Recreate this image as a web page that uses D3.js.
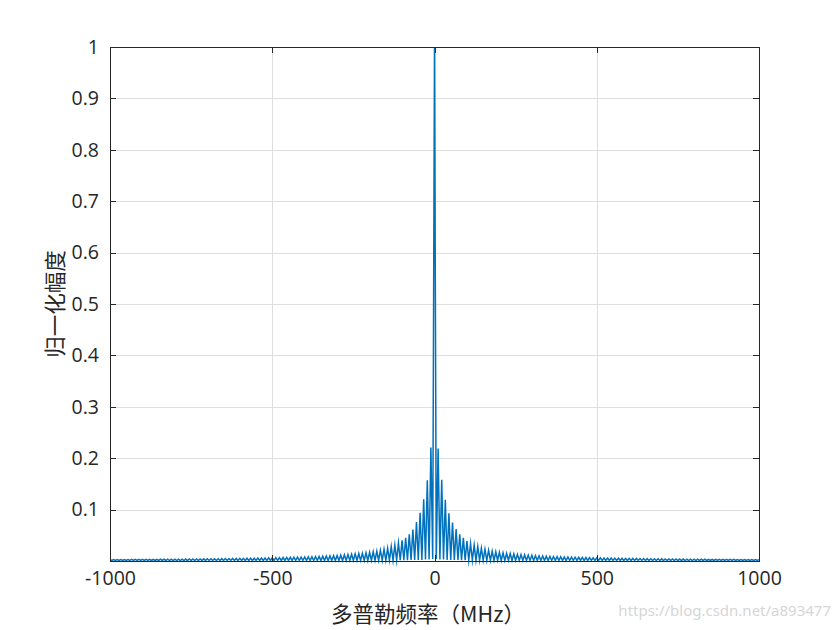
<!DOCTYPE html>
<html>
<head>
<meta charset="utf-8">
<script src="https://cdn.jsdelivr.net/npm/d3@7/dist/d3.min.js"></script>
<style>
  html, body { margin: 0; padding: 0; background: #fff; }
  svg { display: block; }
</style>
</head>
<body>
<svg id="chart" width="840" height="630"></svg>
<script>
// ---------------- data ----------------
const xTicks = [-1000, -500, 0, 500, 1000];
const xTickLabels = ["-1000", "-500", "0", "500", "1000"];
const yTicks = [0.1, 0.2, 0.3, 0.4, 0.5, 0.6, 0.7, 0.8, 0.9, 1];
const yTickLabels = ["0.1", "0.2", "0.3", "0.4", "0.5", "0.6", "0.7", "0.8", "0.9", "1"];
const xLabel = "多普勒频率（MHz）";
const yLabel = "归一化幅度";
const watermark = "https://blog.csdn.net/a893477";

// frequency bins (MHz): 180 bins on each side of 0
const binStepMHz = 1000 / 180;
const binsPerSide = 180;

// centre bin
const centerPeak = 1;
// spike heights at even bins, going outward from the centre
const peaksRight = [
  0.219,0.158,0.119,0.093,0.075,0.062,0.052,0.045,0.039,0.034,
  0.031,0.028,0.025,0.023,0.021,0.019,0.018,0.017,0.016,0.015,
  0.0145,0.014,0.013,0.0125,0.012,0.0115,0.011,0.0105,0.010,0.0098,
  0.0095,0.0090,0.0088,0.0085,0.0082,0.0080,0.0078,0.0075,0.0073,0.0071,
  0.0069,0.0067,0.0065,0.0063,0.0062,0.0060,0.0059,0.0058,0.0057,0.0056,
  0.0055,0.0054,0.0052,0.0051,0.0050,0.0049,0.0048,0.0047,0.0046,0.0045,
  0.0044,0.0043,0.0042,0.0041,0.0041,0.0040,0.0039,0.0038,0.0038,0.0037,
  0.0036,0.0036,0.0035,0.0034,0.0034,0.0033,0.0033,0.0032,0.0032,0.0031,
  0.0031,0.0030,0.0030,0.0029,0.0029,0.0028,0.0028,0.0027,0.0027,0.0026
];
const peaksLeft = [
  0.221,0.157,0.120,0.094,0.076,0.061,0.052,0.045,0.040,0.035,
  0.031,0.028,0.025,0.023,0.021,0.019,0.018,0.017,0.016,0.015,
  0.0145,0.0138,0.0131,0.0125,0.0120,0.0114,0.0109,0.0104,0.0100,0.0097,
  0.0093,0.0090,0.0087,0.0084,0.0082,0.0079,0.0077,0.0075,0.0073,0.0071,
  0.0069,0.0067,0.0065,0.0064,0.0062,0.0061,0.0059,0.0058,0.0057,0.0055,
  0.0054,0.0053,0.0052,0.0051,0.0050,0.0049,0.0048,0.0047,0.0046,0.0045,
  0.0044,0.0043,0.0043,0.0042,0.0041,0.0040,0.0040,0.0039,0.0038,0.0037,
  0.0037,0.0036,0.0035,0.0035,0.0034,0.0034,0.0033,0.0033,0.0032,0.0032,
  0.0031,0.0031,0.0030,0.0030,0.0029,0.0029,0.0028,0.0028,0.0027,0.0027
];
// near-zero values at the odd bins between spikes, going outward
const troughsRight = [
  0.004,0.003,0.003,0.002,0.002,0.002,0.002,0.0015,0.0015,0.0015,
  0.0012,0.0012,0.0012,0.0012,0.0012,0.001,0.001,0.001,0.001,0.001,
  0.001,0.001,0.001,0.001,0.001,0.001,0.001,0.001,0.001,0.001,
  0.001,0.001,0.001,0.001,0.001,0.001,0.001,0.001,0.001,0.001,
  0.001,0.001,0.001,0.001,0.001,0.001,0.001,0.001,0.001,0.001,
  0.001,0.001,0.001,0.001,0.001,0.001,0.001,0.001,0.001,0.001,
  0.001,0.001,0.001,0.001,0.001,0.001,0.001,0.001,0.001,0.001,
  0.001,0.001,0.001,0.001,0.001,0.001,0.001,0.001,0.001,0.001,
  0.001,0.001,0.001,0.001,0.001,0.001,0.001,0.001,0.001,0.001
];
const troughsLeft = [
  0.004,0.003,0.003,0.002,0.002,0.002,0.002,0.0015,0.0015,0.0015,
  0.0012,0.0012,0.0012,0.0012,0.0012,0.001,0.001,0.001,0.001,0.001,
  0.001,0.001,0.001,0.001,0.001,0.001,0.001,0.001,0.001,0.001,
  0.001,0.001,0.001,0.001,0.001,0.001,0.001,0.001,0.001,0.001,
  0.001,0.001,0.001,0.001,0.001,0.001,0.001,0.001,0.001,0.001,
  0.001,0.001,0.001,0.001,0.001,0.001,0.001,0.001,0.001,0.001,
  0.001,0.001,0.001,0.001,0.001,0.001,0.001,0.001,0.001,0.001,
  0.001,0.001,0.001,0.001,0.001,0.001,0.001,0.001,0.001,0.001,
  0.001,0.001,0.001,0.001,0.001,0.001,0.001,0.001,0.001,0.001
];

// assemble the spectrum table (bin index k from -180 .. 180)
function valueAt(k) {
  if (k === 0) return centerPeak;
  const a = Math.abs(k);
  const side = k > 0;
  if (a % 2 === 0) return (side ? peaksRight : peaksLeft)[a / 2 - 1];
  return (side ? troughsRight : troughsLeft)[(a + 1) / 2 - 1];
}
const spectrum = d3.range(-binsPerSide, binsPerSide + 1).map(k => ({ f: k * binStepMHz, v: valueAt(k) }));

// ---------------- layout ----------------
const svg = d3.select("#chart");
const L = 110, R = 759, T = 47, B = 561;
const x = d3.scaleLinear().domain([-1000, 1000]).range([L, R]);
const y = d3.scaleLinear().domain([0, 1]).range([B, T]);
const axisColor = "#262626";
const gridColor = "#dfdfdf";
const numFont = "'Open Sans', 'Noto Sans', sans-serif";
const cjkFont = "'Noto Sans CJK SC', sans-serif";

svg.append("rect").attr("x", 0).attr("y", 0).attr("width", 840).attr("height", 630).attr("fill", "#fff");

// grid
const grid = svg.append("g").attr("shape-rendering", "crispEdges");
grid.selectAll(".gx").data(xTicks).join("line")
  .attr("x1", d => Math.round(x(d)) + 0.5).attr("x2", d => Math.round(x(d)) + 0.5)
  .attr("y1", T).attr("y2", B).attr("stroke", gridColor).attr("stroke-width", 1);
grid.selectAll(".gy").data(yTicks).join("line")
  .attr("x1", L).attr("x2", R)
  .attr("y1", d => Math.round(y(d)) + 0.5).attr("y2", d => Math.round(y(d)) + 0.5)
  .attr("stroke", gridColor).attr("stroke-width", 1);

// spectrum line
const line = d3.line().x(d => x(d.f)).y(d => y(d.v));
svg.append("path").datum(spectrum)
  .attr("d", line).attr("fill", "none")
  .attr("stroke", "#0072BD").attr("stroke-width", 1.5)
  .attr("stroke-linejoin", "miter").attr("stroke-miterlimit", 10);

// axes
function styleAxis(g) {
  g.attr("shape-rendering", "crispEdges");
  g.select(".domain").remove();
  g.selectAll(".tick line").attr("stroke", axisColor);
  g.selectAll(".tick text").attr("fill", axisColor).attr("font-family", numFont).attr("font-size", 19.5);
}
const tk = 6;
svg.append("g").attr("transform", `translate(0,${B})`)
  .call(d3.axisBottom(x).tickValues(xTicks).tickFormat((d, i) => xTickLabels[i]).tickSizeInner(-tk).tickSizeOuter(0).tickPadding(10))
  .call(styleAxis);
svg.append("g").attr("transform", `translate(0,${T})`)
  .call(d3.axisTop(x).tickValues(xTicks).tickFormat("").tickSizeInner(-tk).tickSizeOuter(0))
  .call(styleAxis);
svg.append("g").attr("transform", `translate(${L},0)`)
  .call(d3.axisLeft(y).tickValues(yTicks).tickFormat((d, i) => yTickLabels[i]).tickSizeInner(-tk).tickSizeOuter(0).tickPadding(11))
  .call(styleAxis);
svg.append("g").attr("transform", `translate(${R},0)`)
  .call(d3.axisRight(y).tickValues(yTicks).tickFormat("").tickSizeInner(-tk).tickSizeOuter(0))
  .call(styleAxis);

// box
svg.append("rect").attr("x", L + 0.5).attr("y", T + 0.5)
  .attr("width", R - L).attr("height", B - T)
  .attr("fill", "none").attr("stroke", axisColor).attr("stroke-width", 1)
  .attr("shape-rendering", "crispEdges");

// labels
svg.append("text").attr("x", 428).attr("y", 622)
  .attr("text-anchor", "middle").attr("font-family", cjkFont).attr("font-size", 21.5)
  .attr("fill", axisColor).text(xLabel);
svg.append("text").attr("transform", `translate(63,${(T + B) / 2}) rotate(-90)`)
  .attr("text-anchor", "middle").attr("font-family", cjkFont).attr("font-size", 21.5)
  .attr("fill", axisColor).text(yLabel);

// watermark
svg.append("text").attr("x", 831).attr("y", 616)
  .attr("text-anchor", "end").attr("font-family", "'Noto Sans', sans-serif").attr("font-size", 15)
  .attr("fill", "#d6d6d6").text(watermark);
</script>
</body>
</html>
